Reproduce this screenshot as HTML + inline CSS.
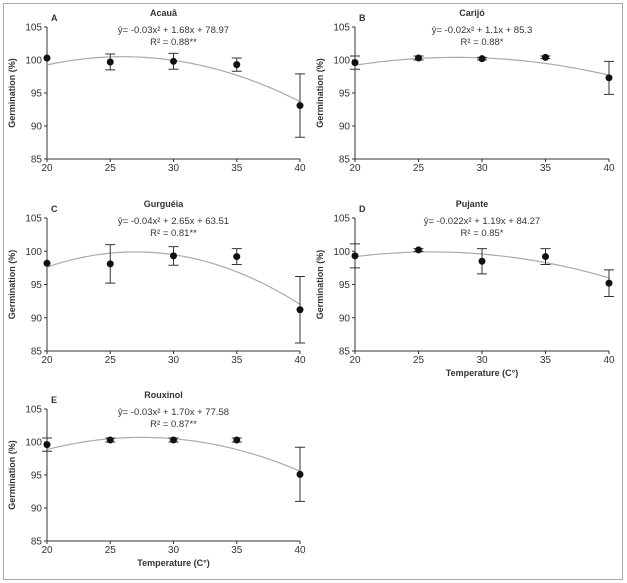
<!DOCTYPE html>
<html><head><meta charset="utf-8">
<style>
body{margin:0;background:#fff;}
svg{display:block;font-family:"Liberation Sans",Arial,sans-serif;}
</style></head>
<body>
<svg id="chart" width="627" height="583" viewBox="0 0 627 583">
<rect x="3.5" y="3.5" width="619" height="576" fill="#fff" stroke="#aaa" stroke-width="1"/>
</svg>
<script>
const temps = [20, 25, 30, 35, 40];
const yTicks = [85, 90, 95, 100, 105];
const panelNames = ["Acauã", "Carijó", "Gurguéia", "Pujante", "Rouxinol"];
const panelLetters = ["A", "B", "C", "D", "E"];
const equations = ["ŷ= -0.03x² + 1.68x + 78.97", "ŷ= -0.02x² + 1.1x + 85.3", "ŷ= -0.04x² + 2.65x + 63.51", "ŷ= -0.022x² + 1.19x + 84.27", "ŷ= -0.03x² + 1.70x + 77.58"];
const r2Labels = ["R² = 0.88**", "R² = 0.88*", "R² = 0.81**", "R² = 0.85*", "R² = 0.87**"];
const meansA = [100.3, 99.7, 99.8, 99.3, 93.1];
const meansB = [99.6, 100.3, 100.2, 100.4, 97.3];
const meansC = [98.2, 98.1, 99.3, 99.2, 91.2];
const meansD = [99.3, 100.2, 98.5, 99.2, 95.2];
const meansE = [99.6, 100.3, 100.3, 100.3, 95.1];
const errA = [0, 1.2, 1.2, 1.0, 4.8];
const errB = [1.0, 0.3, 0.2, 0.2, 2.5];
const errC = [0, 2.9, 1.4, 1.2, 5.0];
const errD = [1.8, 0.2, 1.9, 1.2, 2.0];
const errE = [1.0, 0.3, 0.3, 0.3, 4.1];
const curveA = [-0.0347, 26, 100.5];
const curveB = [-0.0188, 28, 100.4];
const curveC = [-0.0467, 27, 99.9];
const curveD = [-0.0199, 26, 99.9];
const curveE = [-0.0327, 27.5, 100.7];

const means = [meansA, meansB, meansC, meansD, meansE];
const errs = [errA, errB, errC, errD, errE];
const curves = [curveA, curveB, curveC, curveD, curveE];
const layout = [
  {x0:47, x1:300, yTop:27, yBot:159, xlab:false},
  {x0:355, x1:609, yTop:27, yBot:159, xlab:false},
  {x0:47, x1:300, yTop:218, yBot:351, xlab:false},
  {x0:355, x1:609, yTop:218, yBot:351, xlab:true},
  {x0:47, x1:300, yTop:409, yBot:541, xlab:true}
];
const NS = "http://www.w3.org/2000/svg";
const svg = document.getElementById("chart");
function mk(tag, attrs, parent, text){
  const e = document.createElementNS(NS, tag);
  for (const k in attrs) e.setAttribute(k, attrs[k]);
  if (text !== undefined) e.textContent = text;
  parent.appendChild(e);
  return e;
}
layout.forEach((L, p) => {
  const sx = v => L.x0 + (v - 20) / 20 * (L.x1 - L.x0);
  const sy = v => L.yBot - (v - 85) / 20 * (L.yBot - L.yTop);
  const g = mk("g", {}, svg);
  
  
  // axes
  const ya = mk("line", {x1:L.x0, y1:L.yTop, x2:L.x0, y2:L.yBot, stroke:"#333", "stroke-width":1}, g);
  
  
  const xa = mk("line", {x1:L.x0, y1:L.yBot, x2:L.x1, y2:L.yBot, stroke:"#333", "stroke-width":1}, g);
  
  
  yTicks.forEach(t => {
    mk("line", {x1:L.x0-3, y1:sy(t), x2:L.x0, y2:sy(t), stroke:"#333"}, g);
    const tl = mk("text", {x:L.x0-5, y:sy(t)+3.5, "text-anchor":"end", "font-size":10, fill:"#333"}, g, t);
    
    
  });
  temps.forEach(t => {
    mk("line", {x1:sx(t), y1:L.yBot, x2:sx(t), y2:L.yBot+3, stroke:"#333"}, g);
    const tl = mk("text", {x:sx(t), y:L.yBot+12, "text-anchor":"middle", "font-size":10, fill:"#333"}, g, t);
    
    
  });
  const yt = mk("text", {x:0, y:0, transform:`translate(${L.x0-32},${(L.yTop+L.yBot)/2}) rotate(-90)`, "text-anchor":"middle", "font-size":9, "font-weight":"bold", fill:"#333"}, g, "Germination (%)");
  
  
  if (L.xlab) {
    const xt = mk("text", {x:(L.x0+L.x1)/2, y:L.yBot+25, "text-anchor":"middle", "font-size":9, "font-weight":"bold", fill:"#333"}, g, "Temperature (C°)");
    
    
  }
  const cx = (L.x0 + L.x1) / 2;
  const lt = mk("text", {x:L.x0+4, y:L.yTop-6, "font-size":9, "font-weight":"bold", fill:"#333"}, g, panelLetters[p]);
  
  
  const ti = mk("text", {x:cx-10, y:L.yTop-11, "text-anchor":"middle", "font-size":9, "font-weight":"bold", fill:"#333"}, g, panelNames[p]);
  
  
  const eq = mk("text", {x:cx, y:L.yTop+6, "text-anchor":"middle", "font-size":9.5, fill:"#333"}, g, equations[p]);
  
  
  const r2 = mk("text", {x:cx, y:L.yTop+18, "text-anchor":"middle", "font-size":9.5, fill:"#333"}, g, r2Labels[p]);
  
  
  // curve
  const [a, h, k] = curves[p];
  let d = "";
  for (let i = 0; i <= 80; i++) {
    const x = 20 + i * 0.25;
    const y = a * (x - h) * (x - h) + k;
    d += (i ? "L" : "M") + sx(x).toFixed(2) + "," + sy(y).toFixed(2);
  }
  const cv = mk("path", {d, fill:"none", stroke:"#aaa", "stroke-width":1.2}, g);
  
  
  // points and error bars
  temps.forEach((t, i) => {
    const m = means[p][i], e = errs[p][i];
    const x = sx(t);
    if (e > 0) {
      const eb = mk("path", {d:`M${x},${sy(m+e)}L${x},${sy(m-e)}M${x-5},${sy(m+e)}L${x+5},${sy(m+e)}M${x-5},${sy(m-e)}L${x+5},${sy(m-e)}`, stroke:"#333", "stroke-width":1, fill:"none"}, g);
      
      
    }
    const pt = mk("circle", {cx:x, cy:sy(m), r:3.5, fill:"#111"}, g);
    
    
  });
});
</script>
</body></html>
